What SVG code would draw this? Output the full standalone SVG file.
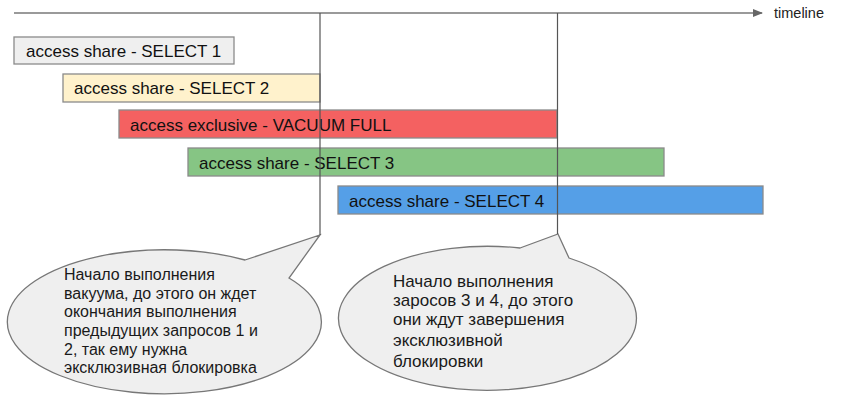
<svg xmlns="http://www.w3.org/2000/svg" width="845" height="410" viewBox="0 0 845 410">
<style>
  .bar { stroke: #8a8a8a; stroke-width: 1.3; }
  .lbl { font-family: "Liberation Sans", Arial, sans-serif; font-size: 17px; fill: #111; }
  .note { font-family: "Liberation Sans", Arial, sans-serif; fill: #1a1a1a; }
  .bubble { fill: #efefef; stroke: #777; stroke-width: 1.3; }
  .vline { stroke: #555; stroke-width: 1.2; fill: none; }
</style>
<defs>
  <marker id="arr" markerWidth="10" markerHeight="8" refX="9" refY="4" orient="auto" markerUnits="userSpaceOnUse">
    <path d="M0,0 L10,4 L0,8 Z" fill="#666"/>
  </marker>
</defs>
<rect width="845" height="410" fill="#fff"/>

<g id="timeline">
  <line x1="14" y1="13" x2="762" y2="13" stroke="#9a9a9a" stroke-width="1.8" marker-end="url(#arr)"/>
  <text x="774" y="18" style="font-family: 'Liberation Sans', Arial, sans-serif; font-size: 14.5px; fill: #222;">timeline</text>
</g>

<g id="bubble1">
  <path class="bubble" d="M 245 260 L 320 235 L 289 278 A 157 72 0 1 1 245 260 Z"/>
  <text class="note" font-size="16">
    <tspan x="64" y="280">Начало выполнения</tspan>
    <tspan x="64" y="299">вакуума, до этого он ждет</tspan>
    <tspan x="64" y="317">окончания выполнения</tspan>
    <tspan x="64" y="336">предыдущих запросов 1 и</tspan>
    <tspan x="64" y="355">2, так ему нужна</tspan>
    <tspan x="64" y="373">эксклюзивная блокировка</tspan>
  </text>
</g>

<g id="bubble2">
  <path class="bubble" d="M 520 248 L 558 234 L 569 258 A 149 72 0 1 1 520 248 Z"/>
  <text class="note" font-size="17">
    <tspan x="393" y="287">Начало выполнения</tspan>
    <tspan x="393" y="306">заросов 3 и 4, до этого</tspan>
    <tspan x="393" y="325">они ждут завершения</tspan>
    <tspan x="393" y="346">эксклюзивной</tspan>
    <tspan x="393" y="367">блокировки</tspan>
  </text>
</g>

<g id="select1">
  <rect class="bar" x="14" y="37" width="220" height="27" fill="#efefef"/>
  <text class="lbl" x="26" y="57">access share - SELECT 1</text>
</g>
<g id="select2">
  <rect class="bar" x="63" y="74" width="257" height="28" fill="#fff2cc"/>
  <text class="lbl" x="74" y="94">access share - SELECT 2</text>
</g>
<g id="vacuum">
  <rect class="bar" x="119" y="110" width="438" height="28" fill="#f46161"/>
  <text class="lbl" x="130" y="131">access exclusive - VACUUM FULL</text>
</g>
<g id="select3">
  <rect class="bar" x="188" y="148" width="476" height="28" fill="#86c584"/>
  <text class="lbl" x="199" y="169">access share - SELECT 3</text>
</g>
<g id="select4">
  <rect class="bar" x="338" y="186" width="425" height="28" fill="#559fe7"/>
  <text class="lbl" x="349" y="207">access share - SELECT 4</text>
</g>

<g id="connectors">
  <line class="vline" x1="320" y1="13" x2="320" y2="235"/>
  <line class="vline" x1="557.5" y1="13" x2="557.5" y2="234"/>
</g>
</svg>
